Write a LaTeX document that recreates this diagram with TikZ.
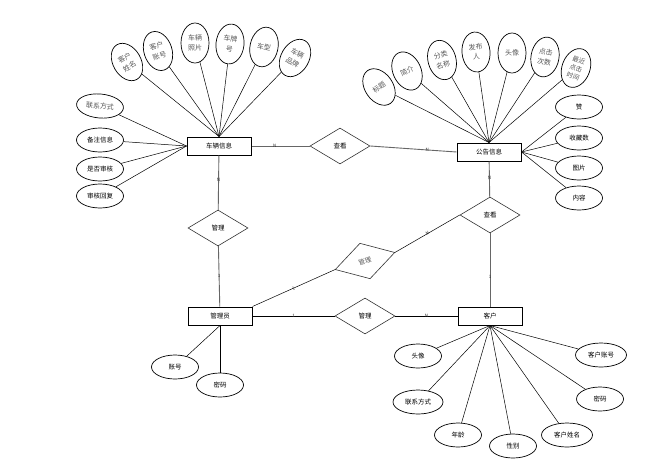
\documentclass[tikz,border=0pt]{standalone}
\usepackage{fontspec}
\setmainfont{Noto Sans CJK SC}
\usetikzlibrary{shapes.geometric}
\begin{document}
\begin{tikzpicture}[x=1pt,y=-1pt,
  ent/.style={draw=black,line width=1pt,minimum width=64pt,minimum height=18pt,inner sep=0pt,font=\fontsize{6.5}{7}\selectfont},
  rel/.style={draw=black!80,line width=0.6pt,diamond,aspect=1.67,minimum width=60pt,minimum height=36pt,inner sep=0pt,font=\fontsize{6.5}{7}\selectfont},
  attr/.style={draw=black,line width=0.7pt,ellipse,minimum width=47pt,minimum height=24pt,inner sep=0pt,font=\fontsize{6.5}{7}\selectfont},
  tall/.style={draw=black,line width=0.7pt,ellipse,minimum width=28pt,minimum height=40pt,inner sep=0pt,align=center,text=black!65,font=\fontsize{7}{10}\selectfont},
  al/.style={draw=black,line width=0.5pt},
  cl/.style={draw=black!60,line width=0.9pt},
  lab/.style={font=\fontsize{4.5}{5}\selectfont,inner sep=0.5pt,text=black!80}
]
\useasboundingbox (0,0) rectangle (655,474);
\fill[white] (0,0) rectangle (655,474);

% entities
\node[ent] (car) at (219,146) {车辆信息};
\node[ent] (ann) at (489,152) {公告信息};
\node[ent] (adm) at (220,316) {管理员};
\node[ent] (cus) at (490,316) {客户};

% relations
\node[rel] (v1) at (340,146) {查看};
\node[rel] (v2) at (490,215) {查看};
\node[rel] (m1) at (218,228) {管理};
\node[rel,rotate=16,minimum width=62pt,minimum height=37pt,text=black!65] (m2) at (365,261) {管理};
\node[rel] (m3) at (365,316) {管理};

% car attributes (fan)
\node[tall,rotate=30] (c1) at (127,62) {客户\\姓名};
\node[tall,rotate=18] (c2) at (158,51) {客户\\账号};
\node[tall,rotate=0] (c3) at (195,43) {车辆\\照片};
\node[tall,rotate=-6] (c4) at (230,44) {车牌\\号};
\node[tall,rotate=-12] (c5) at (264,47) {车型};
\node[tall,rotate=-30] (c6) at (295,58) {车辆\\品牌};
\foreach \n in {c1,c2,c3,c4,c5,c6} \draw[al] (\n) -- (car.north);

\node[attr,rotate=-5,text=black!65,font=\fontsize{7}{8}\selectfont] (c7) at (100,106) {联系方式};
\node[attr] (c8) at (100,140) {备注信息};
\node[attr] (c9) at (100,169) {是否审核};
\node[attr] (c10) at (100,196) {审核回复};
\foreach \n in {c7,c8,c9,c10} \draw[al] (\n) -- (car.west);

% announcement attributes
\node[tall,rotate=35] (a1) at (379,87) {标题};
\node[tall,rotate=25] (a2) at (407,71) {简介};
\node[tall,rotate=15] (a3) at (442,60) {分类\\名称};
\node[tall,rotate=5] (a4) at (476,52) {发布\\人};
\node[tall,rotate=0] (a5) at (512,53) {头像};
\node[tall,rotate=-10] (a6) at (545,57) {点击\\次数};
\node[tall,rotate=-20,font=\fontsize{6.5}{8.5}\selectfont] (a7) at (576,68) {最近\\点击\\时间};
\foreach \n in {a1,a2,a3,a4,a5,a6,a7} \draw[al] (\n) -- (ann.north);

\node[attr] (a8) at (579,107) {赞};
\node[attr] (a9) at (579,138) {收藏数};
\node[attr] (a10) at (579,168) {图片};
\node[attr] (a11) at (579,198) {内容};
\foreach \n in {a8,a9,a10,a11} \draw[al] (\n) -- (ann.east);

% customer attributes
\node[attr] (u1) at (418,356) {头像};
\node[attr,minimum width=50pt] (u2) at (418,402) {联系方式};
\node[attr] (u3) at (458,435) {年龄};
\node[attr] (u4) at (513,446) {性别};
\node[attr,minimum width=51pt] (u5) at (567,435) {客户姓名};
\node[attr] (u6) at (600,399) {密码};
\node[attr,minimum width=51pt] (u7) at (601,355) {客户账号};
\foreach \n in {u1,u2,u3,u4,u5,u6,u7} \draw[al] (\n) -- (cus.south);

% admin attributes
\node[attr] (d1) at (175,367) {账号};
\node[attr] (d2) at (220,385) {密码};
\draw[al] (d1) -- (adm.south);
\draw[al] (d2) -- (adm.south);

% connectors
\draw[cl] (car) -- node[lab,pos=0.4]{N} (v1);
\draw[cl] (v1.east) -- node[lab,pos=0.66]{N} (ann.west);
\draw[cl] (ann) -- node[lab,pos=0.45]{N} (v2);
\draw[cl] (v2) -- node[lab,pos=0.6]{1} (cus);
\draw[cl] (car) -- node[lab,pos=0.45]{N} (m1);
\draw[cl] (m1) -- node[lab,pos=0.5]{1} (adm);
\draw[al] (adm.north east) -- node[lab,pos=0.5,sloped]{1} (m2.west);
\draw[al] (m2.east) -- node[lab,pos=0.5,sloped]{N} (v2.west);
\draw[al] (adm) -- node[lab,pos=0.5]{1} (m3);
\draw[al] (m3) -- node[lab,pos=0.5]{N} (cus);
\end{tikzpicture}
\end{document}
